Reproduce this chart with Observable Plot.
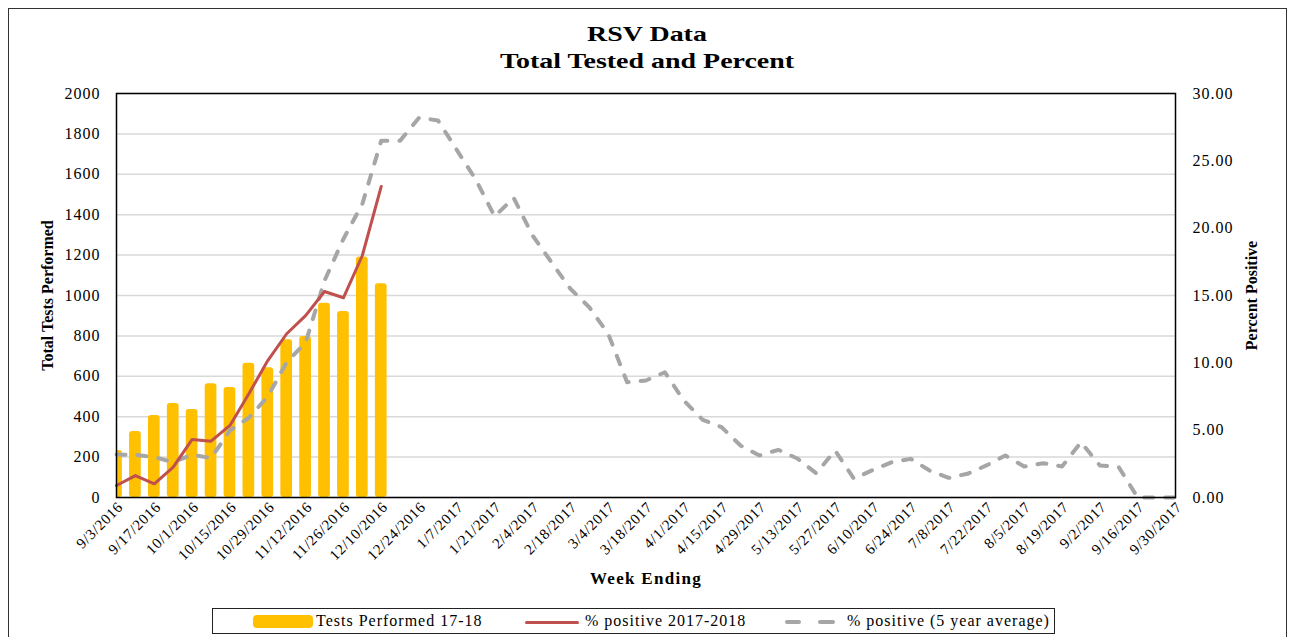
<!DOCTYPE html>
<html>
<head>
<meta charset="utf-8">
<script src="https://cdn.jsdelivr.net/npm/d3@7"></script>
<script src="https://cdn.jsdelivr.net/npm/@observablehq/plot@0.6"></script>
<style>
  html, body { margin: 0; padding: 0; background: #fff; }
  body { width: 1294px; height: 637px; position: relative; overflow: hidden; font-family: "Liberation Serif", "Times New Roman", serif; color: #000; }
  #outer { position: absolute; left: 8px; top: 8px; width: 1279px; height: 660px; border: 1.5px solid #333; box-sizing: border-box; }
  .title { position: absolute; left: 0; width: 1294px; text-align: center; font-weight: bold; font-size: 22px; line-height: 26.6px; transform: scaleX(1.27); transform-origin: 647px 50%; }
  #chart { position: absolute; left: 0; top: 80px; }
  #legend { position: absolute; left: 212px; top: 608px; width: 843px; height: 26px; border: 1.5px solid #222; box-sizing: border-box; font-size: 16px; }
  .lg { position: absolute; }
  .lgtext { position: absolute; top: 2px; line-height: 20px; letter-spacing: 1px; white-space: nowrap; }
</style>
</head>
<body>
<div id="outer"></div>
<div class="title" style="top:21px">RSV Data</div>
<div class="title" style="top:47.6px">Total Tested and Percent</div>
<div id="chart"></div>
<div id="legend">
  <div class="lg" style="left:40px; top:6px; width:60px; height:13px; background:#FFC000; border-radius:4px;"></div>
  <div class="lgtext" style="left:103px;">Tests Performed 17-18</div>
  <div class="lg" style="left:312px; top:11.5px; width:54px; height:3px; background:#C0504D; border-radius:2px;"></div>
  <div class="lgtext" style="left:372px;">% positive 2017-2018</div>
  <div class="lg" style="left:572px; top:11px; width:16px; height:4px; background:#A6A6A6; border-radius:2px;"></div>
  <div class="lg" style="left:605px; top:11px; width:17px; height:4px; background:#A6A6A6; border-radius:2px;"></div>
  <div class="lgtext" style="left:634px;">% positive (5 year average)</div>
</div>
<script>
// ---- data ----
const weeks = [
  "9/3/2016","9/10/2016","9/17/2016","9/24/2016","10/1/2016","10/8/2016","10/15/2016","10/22/2016",
  "10/29/2016","11/5/2016","11/12/2016","11/19/2016","11/26/2016","12/3/2016","12/10/2016","12/17/2016",
  "12/24/2016","12/31/2016","1/7/2017","1/14/2017","1/21/2017","1/28/2017","2/4/2017","2/11/2017",
  "2/18/2017","2/25/2017","3/4/2017","3/11/2017","3/18/2017","3/25/2017","4/1/2017","4/8/2017",
  "4/15/2017","4/22/2017","4/29/2017","5/6/2017","5/13/2017","5/20/2017","5/27/2017","6/3/2017",
  "6/10/2017","6/17/2017","6/24/2017","7/1/2017","7/8/2017","7/15/2017","7/22/2017","7/29/2017",
  "8/5/2017","8/12/2017","8/19/2017","8/26/2017","9/2/2017","9/9/2017","9/16/2017","9/23/2017","9/30/2017"
];
const testsPerformed = [233, 327, 406, 465, 436, 563, 545, 665, 642, 781, 797, 962, 921, 1190, 1058];
const pctPositive1718 = [0.89, 1.63, 1.02, 2.25, 4.31, 4.18, 5.35, 7.7, 10.17, 12.16, 13.5, 15.3, 14.83, 17.97, 23.1];
const pctPositive5yr = [
  3.19, 3.17, 3.0, 2.62, 3.19, 2.92, 4.98, 5.92, 7.5, 10.05, 11.5, 16.1, 19.2, 21.8, 26.5, 26.5,
  28.2, 28.0, 25.8, 23.6, 20.87, 22.26, 19.46, 17.47, 15.5, 14.13, 12.16, 8.56, 8.69, 9.3, 7.2, 5.77,
  5.22, 3.86, 3.12, 3.54, 2.9, 1.8, 3.49, 1.39, 2.05, 2.62, 2.87, 2.0, 1.46, 1.76, 2.38, 3.12,
  2.3, 2.55, 2.3, 4.11, 2.38, 2.25, 0, 0, 0
];
const leftTicks = [0, 200, 400, 600, 800, 1000, 1200, 1400, 1600, 1800, 2000];
const rightTicks = [0, 5, 10, 15, 20, 25, 30];
const leftMax = 2000, rightMax = 30;

// ---- build tables ----
const toLeft = p => p * leftMax / rightMax;
const bars = testsPerformed.map((v, i) => ({i, v}));
const red = pctPositive1718.map((p, i) => ({i, p}));
const avg = pctPositive5yr.map((p, i) => ({i, p}));
const xTickIdx = weeks.map((w, i) => i).filter(i => i % 2 === 0);

const chart = Plot.plot({
  width: 1294,
  height: 520,
  marginLeft: 116,
  marginRight: 119,
  marginTop: 13,
  marginBottom: 103,
  style: {fontFamily: "'Liberation Serif', 'Times New Roman', serif", fontSize: "15px", color: "#000", background: "transparent"},
  x: {type: "linear", domain: [0, weeks.length - 1]},
  y: {domain: [0, leftMax]},
  marks: [
    Plot.gridY(leftTicks, {stroke: "#D9D9D9", strokeOpacity: 1, strokeWidth: 1.5}),
    Plot.rectY(bars, {x1: d => d.i - 0.31, x2: d => d.i + 0.31, y: "v", fill: "#FFC000", rx: 3, clip: true}),
    Plot.line(avg, {x: "i", y: d => toLeft(d.p), stroke: "#A6A6A6", strokeWidth: 4, strokeDasharray: "9,12", strokeLinecap: "round", strokeLinejoin: "round"}),
    Plot.line(red, {x: "i", y: d => toLeft(d.p), stroke: "#C0504D", strokeWidth: 3, strokeLinejoin: "round"}),
    Plot.axisY({anchor: "left", ticks: leftTicks, tickFormat: d => String(d), tickSize: 0, tickPadding: 16, label: null, fontSize: 16}),
    Plot.axisY({anchor: "right", ticks: rightTicks.map(toLeft), tickFormat: d => (d * rightMax / leftMax).toFixed(2), tickSize: 0, tickPadding: 17, label: null, fontSize: 16}),
    Plot.axisX({ticks: xTickIdx, tickFormat: i => weeks[i], tickRotate: -45, tickSize: 0, tickPadding: 7, dx: 4, label: null, fontSize: 15}),
    Plot.text(["Total Tests Performed"], {frameAnchor: "left", dx: -69, rotate: -90, textAnchor: "middle", lineAnchor: "middle", fontWeight: "bold", fontSize: 16}),
    Plot.text(["Percent Positive"], {frameAnchor: "right", dx: 76, rotate: -90, textAnchor: "middle", lineAnchor: "middle", fontWeight: "bold", fontSize: 16}),
    Plot.text(["Week Ending"], {frameAnchor: "bottom", dy: 81, textAnchor: "middle", lineAnchor: "middle", fontWeight: "bold", fontSize: 17}),
    Plot.frame({stroke: "#000", strokeWidth: 1.5})
  ]
});
document.getElementById("chart").appendChild(chart);

// widen glyph spacing to match the reference's stretched text
const spacing = {"y-axis tick label": "1px", "x-axis tick label": "0.7px"};
d3.select(chart).selectAll("g[aria-label]").each(function () {
  const lab = this.getAttribute("aria-label");
  if (spacing[lab]) d3.select(this).selectAll("text").style("letter-spacing", spacing[lab]);
});
d3.select(chart).selectAll("text").filter(function () { return this.textContent === "Week Ending"; })
  .style("letter-spacing", "1.3px");
</script>
</body>
</html>
